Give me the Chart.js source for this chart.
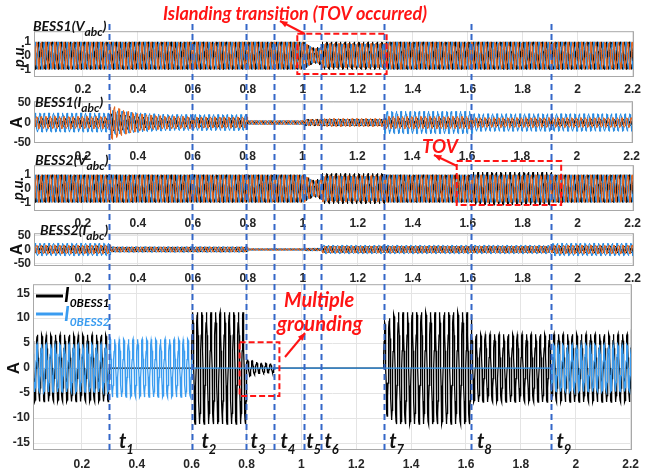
<!DOCTYPE html>
<html><head><meta charset="utf-8">
<script src="https://cdn.jsdelivr.net/npm/chart.js@4.4.1/dist/chart.umd.min.js"></script>
<style>
html,body{margin:0;padding:0;background:#fff;}
#fig{position:relative;width:646px;height:474px;overflow:hidden;background:#fff;}
#fig canvas{position:absolute;left:0;}
</style></head><body>
<div id="fig"></div>
<script>
// ---- time axis ----
const xTickValues = [0.2, 0.4, 0.6, 0.8, 1.0, 1.2, 1.4, 1.6, 1.8, 2.0, 2.2];
const xTickLabels = ['0.2', '0.4', '0.6', '0.8', '1', '1.2', '1.4', '1.6', '1.8', '2', '2.2'];
const xMin = 0.022, xMax = 2.205;

// operating intervals (s) and switching events
const segmentEdges = [0.02, 0.30, 0.60, 0.80, 0.90, 1.01, 1.07, 1.30, 1.62, 1.91, 2.205];
const eventTimes = [0.30, 0.60, 0.80, 0.90, 1.01, 1.07, 1.30, 1.62, 1.91];
const eventNames = ['1', '2', '3', '4', '5', '6', '7', '8', '9'];
const eventLabelTimes = [0.335, 0.636, 0.815, 0.924, 1.018, 1.084, 1.32, 1.64, 1.93];

// peak amplitude per interval (a list = envelope across the interval)
const bess1VoltA = [1, 1, 1, 1, 1, [0.9, 0.55, 0.7], 1.0, 1, 1, 1];
const bess1VoltB = [1, 1, 1, 1, 1, [0.9, 0.5, 0.6], 0.85, 1, 1, 1];
const bess1VoltC = [1, 1, 1, 1, 1, [0.9, 0.5, 0.65], 0.9, 1, 1, 1];
const bess1CurA = [10, [22, 14, 10, 10], 10, 4, 4, 8, 8, 10, 8, 8];
const bess1CurB = [24, [31, 26, 22, 20, 20], 20, 5, 5, 6, 8, 28, 22, 22];
const bess1CurC = [15, [44, 30, 22, 18, 16, 15, 15], 14, 5, 5, 8, 10, 15, 12, 12];
const bess2VoltA = [1, 1, 1, 1, 1, [0.9, 0.6, 0.8], 1.1, 1, 1.2, 1];
const bess2VoltB = [1, 1, 1, 1, 1, [0.9, 0.5, 0.7], 0.9, 1, 1, 1];
const bess2VoltC = [1, 1, 1, 1, 1, [0.9, 0.55, 0.75], 0.95, 1, 1, 1];
const bess2CurA = [12, 8, 8, 2, 2, 4, 10, 10, 10, 12];
const bess2CurB = [22, 10, 10, 3, 3, 5, 15, 15, 15, 22];
const bess2CurC = [15, 9, 9, 3, 3, 4, 12, 12, 12, 15];
const i0Bess1 = [6.7, 0, 11.2, [1.8, 1.0, 0.9], 0, 0, 0, [9, 11.2, 11.2, 11.2, 11.2, 11.2, 11.2, 11.2], 6.8, 6.8];
const i0Bess2 = [4.8, 5.8, 0, 0, 0, 0, 0, 0, 0, 4.7];

// y ticks
const voltTicks = [-1, 0, 1];
const ampTicks = [-50, 0, 50];
const i0Ticks = [-15, -10, -5, 0, 5, 10, 15];

const FREQ = 60, SAMPLES_PER_CYCLE = 20;
const PH = 2 * Math.PI / 3;
const BLACK = '#000000', BLUE = '#2a8be0', ORANGE = '#e2651f', LIGHTBLUE = '#3a9cf0';
const EVENT_BLUE = '#3467c8', RED = '#ff1414';
const TICK_FONT = {family: '"Liberation Sans", Arial, sans-serif', weight: 'bold', size: 12};
const ANNO = 'Lato, "Open Sans", sans-serif';

function envelopeAt(entry, frac) {
  if (typeof entry === 'number') return entry;
  const n = entry.length - 1;
  const p = frac * n;
  const i = Math.min(Math.floor(p), n - 1);
  const f = p - i;
  return entry[i] * (1 - f) + entry[i + 1] * f;
}

function buildWave(amps, phase) {
  const pts = [];
  for (let s = 0; s < amps.length; s++) {
    const t0 = segmentEdges[s], t1 = segmentEdges[s + 1];
    const n = Math.max(2, Math.round((t1 - t0) * FREQ * SAMPLES_PER_CYCLE));
    for (let i = 0; i <= n; i++) {
      const t = t0 + (t1 - t0) * i / n;
      const a = envelopeAt(amps[s], i / n);
      pts.push({x: t, y: a * Math.sin(2 * Math.PI * FREQ * t + phase)});
    }
  }
  return pts;
}

const framePlugin = {
  id: 'frame',
  afterDraw(chart) {
    const {ctx, chartArea: a} = chart;
    ctx.save();
    ctx.strokeStyle = '#a8a8a8';
    ctx.lineWidth = 1;
    ctx.strokeRect(a.left + 0.5, a.top + 0.5, a.width - 1, a.height - 1);
    ctx.restore();
  }
};

const fig = document.getElementById('fig');

function makePanel(cfg) {
  const cv = document.createElement('canvas');
  const h = (cfg.bottom - cfg.top) + 10 + 22;
  cv.width = 646; cv.height = h;
  cv.style.top = (cfg.top - 10) + 'px';
  fig.appendChild(cv);
  const chart = new Chart(cv.getContext('2d'), {
    type: 'line',
    data: {datasets: cfg.series.map((s, k) => ({
      data: buildWave(s.amps, s.phase),
      borderColor: s.color, borderWidth: s.width || 1, order: s.order,
      pointRadius: 0, tension: 0, fill: false
    }))},
    options: {
      responsive: false, animation: false, events: [], parsing: false, normalized: true,
      layout: {padding: {top: 10, bottom: 0, left: 0, right: 646 - cfg.right}},
      plugins: {legend: {display: false}, tooltip: {enabled: false}},
      scales: {
        x: {
          type: 'linear', min: xMin, max: xMax,
          afterBuildTicks: sc => { sc.ticks = xTickValues.map(v => ({value: v})); },
          afterFit: sc => { sc.height = 22; },
          ticks: {autoSkip: false, maxRotation: 0, padding: cfg.xpad, color: '#262626', font: TICK_FONT,
                  callback: (v, i) => xTickLabels[i]},
          grid: {color: '#e4e4e4', drawTicks: false}, border: {display: false}
        },
        y: {
          type: 'linear', min: cfg.ymin, max: cfg.ymax,
          afterBuildTicks: sc => { sc.ticks = cfg.yTicks.map(v => ({value: v})); },
          afterFit: sc => { sc.width = cfg.left; },
          ticks: {autoSkip: false, padding: 3, color: '#262626', font: TICK_FONT,
                  callback: (v, i) => String(cfg.yTicks[i])},
          grid: {color: '#e4e4e4', drawTicks: false}, border: {display: false}
        }
      }
    },
    plugins: [framePlugin]
  });
  chart.pageTop = cfg.top - 10;
  return chart;
}

const threePhase = (a, b, c, orders) => [
  {amps: a, phase: 0, color: BLACK, order: orders[0]},
  {amps: b, phase: -PH, color: BLUE, order: orders[1]},
  {amps: c, phase: PH, color: ORANGE, order: orders[2]}
];

const p1 = makePanel({top: 31, bottom: 77, left: 34, right: 637, xpad: 5, ymin: -1.56, ymax: 1.78, yTicks: voltTicks,
  series: threePhase(bess1VoltA, bess1VoltB, bess1VoltC, [2, 1, 0])});
const p2 = makePanel({top: 101, bottom: 143, left: 34, right: 637, xpad: 6, ymin: -51, ymax: 53, yTicks: ampTicks,
  series: threePhase(bess1CurA, bess1CurB, bess1CurC, [2, 1, 0])});
const p3 = makePanel({top: 165, bottom: 211, left: 34, right: 637, xpad: 5, ymin: -1.63, ymax: 1.7, yTicks: voltTicks,
  series: threePhase(bess2VoltA, bess2VoltB, bess2VoltC, [2, 1, 0])});
const p4 = makePanel({top: 233, bottom: 266, left: 34, right: 637, xpad: 5, ymin: -58, ymax: 57, yTicks: ampTicks,
  series: threePhase(bess2CurA, bess2CurB, bess2CurC, [2, 1, 0])});
const p5 = makePanel({top: 284, bottom: 450, left: 33, right: 635, xpad: 7, ymin: -16.4, ymax: 16.8, yTicks: i0Ticks,
  series: [
    {amps: i0Bess1, phase: 0, color: BLACK, order: 1, width: 1.3},
    {amps: i0Bess2, phase: 0.3, color: LIGHTBLUE, order: 0, width: 1.3}
  ]});

// ---- annotation layer ----
const ov = document.createElement('canvas');
ov.width = 646; ov.height = 474; ov.style.top = '0px';
fig.appendChild(ov);
const ctx = ov.getContext('2d');

const px = (chart, v) => chart.scales.x.getPixelForValue(v);
const py = (chart, v) => chart.pageTop + chart.scales.y.getPixelForValue(v);

// switching-instant markers
ctx.save();
ctx.strokeStyle = EVENT_BLUE; ctx.lineWidth = 2; ctx.setLineDash([6, 4]);
eventTimes.forEach(t => {
  const x = Math.round(px(p5, t)) + 0.5;
  ctx.beginPath(); ctx.moveTo(x, 24); ctx.lineTo(x, 452); ctx.stroke();
});
ctx.restore();

// text with subscript
function subText(main, sub, tail, x, y, size, subSize, color, fam) {
  ctx.save();
  ctx.fillStyle = color; ctx.textBaseline = 'alphabetic';
  ctx.font = `italic bold ${size}px ${fam}`;
  ctx.fillText(main, x, y);
  let w = ctx.measureText(main).width;
  ctx.font = `italic bold ${subSize}px ${fam}`;
  ctx.fillText(sub, x + w, y + subSize * 0.45);
  w += ctx.measureText(sub).width;
  if (tail) {
    ctx.font = `italic bold ${size}px ${fam}`;
    ctx.fillText(tail, x + w, y);
  }
  ctx.restore();
}

subText('BESS1(V', 'abc', ')', 33, 31, 14, 12, '#111', ANNO);
subText('BESS1(I', 'abc', ')', 35, 107, 14, 12, '#111', ANNO);
subText('BESS2(V', 'abc', ')', 35, 165, 14, 12, '#111', ANNO);
subText('BESS2(I', 'abc', ')', 40, 235, 14, 12, '#111', ANNO);

// y-axis titles
function vText(t, x, y, font) {
  ctx.save();
  ctx.translate(x, y); ctx.rotate(-Math.PI / 2);
  ctx.font = font; ctx.fillStyle = '#111'; ctx.textAlign = 'center'; ctx.textBaseline = 'middle';
  ctx.fillText(t, 0, 0);
  ctx.restore();
}
vText('p.u.', 19, py(p1, 0), `italic bold 15px ${ANNO}`);
vText('A', 18, py(p2, 0), 'bold 16px "Liberation Sans", Arial, sans-serif');
vText('p.u.', 18, py(p3, 0), `italic bold 15px ${ANNO}`);
vText('A', 18, py(p4, 0), 'bold 16px "Liberation Sans", Arial, sans-serif');
vText('A', 14, py(p5, 0), 'bold 17px "Liberation Sans", Arial, sans-serif');

// legend of the bottom panel
ctx.save();
ctx.lineWidth = 3;
ctx.strokeStyle = BLACK; ctx.beginPath(); ctx.moveTo(36, 296); ctx.lineTo(63, 296); ctx.stroke();
ctx.strokeStyle = LIGHTBLUE; ctx.beginPath(); ctx.moveTo(36, 314); ctx.lineTo(63, 314); ctx.stroke();
ctx.restore();
subText('I', '0BESS1', '', 64, 302, 20, 12, BLACK, ANNO);
subText('I', '0BESS2', '', 64, 321, 20, 12, LIGHTBLUE, ANNO);

// event labels t1..t9
eventNames.forEach((n, i) => {
  subText('t', n, '', px(p5, eventLabelTimes[i]), py(p5, -16), 20, 13, '#111', ANNO);
});

// red dashed boxes
function dashBox(chart, x0, x1, y0, y1) {
  ctx.save();
  ctx.strokeStyle = RED; ctx.lineWidth = 2; ctx.setLineDash([6, 3]);
  const L = px(chart, x0), R = px(chart, x1), T = py(chart, y1), B = py(chart, y0);
  ctx.strokeRect(L, T, R - L, B - T);
  ctx.restore();
}
dashBox(p1, 0.98, 1.305, -1.35, 1.6);
dashBox(p3, 1.56, 1.94, -1.2, 2.0);
dashBox(p5, 0.775, 0.92, -5.6, 5.2);

function arrow(x0, y0, x1, y1) {
  ctx.save();
  ctx.strokeStyle = RED; ctx.fillStyle = RED; ctx.lineWidth = 2;
  ctx.beginPath(); ctx.moveTo(x0, y0); ctx.lineTo(x1, y1); ctx.stroke();
  const a = Math.atan2(y1 - y0, x1 - x0), s = 8;
  ctx.beginPath();
  ctx.moveTo(x1, y1);
  ctx.lineTo(x1 - s * Math.cos(a - 0.4), y1 - s * Math.sin(a - 0.4));
  ctx.lineTo(x1 - s * Math.cos(a + 0.4), y1 - s * Math.sin(a + 0.4));
  ctx.closePath(); ctx.fill();
  ctx.restore();
}

function redText(t, x, y, size, maxW) {
  ctx.save();
  ctx.font = `italic bold ${size}px ${ANNO}`;
  ctx.fillStyle = RED; ctx.textBaseline = 'alphabetic';
  ctx.fillText(t, x, y, maxW);
  ctx.restore();
}
redText('Islanding transition (TOV occurred)', 163, 20, 18, 268);
arrow(305, 34, 280, 21);
redText('TOV', 422, 153, 19, 36);
arrow(457, 166, 434, 155);
redText('Multiple', 284, 307, 20, 78);
redText('grounding', 277, 331, 20, 90);
arrow(285, 357, 305, 333);
</script>
</body></html>
